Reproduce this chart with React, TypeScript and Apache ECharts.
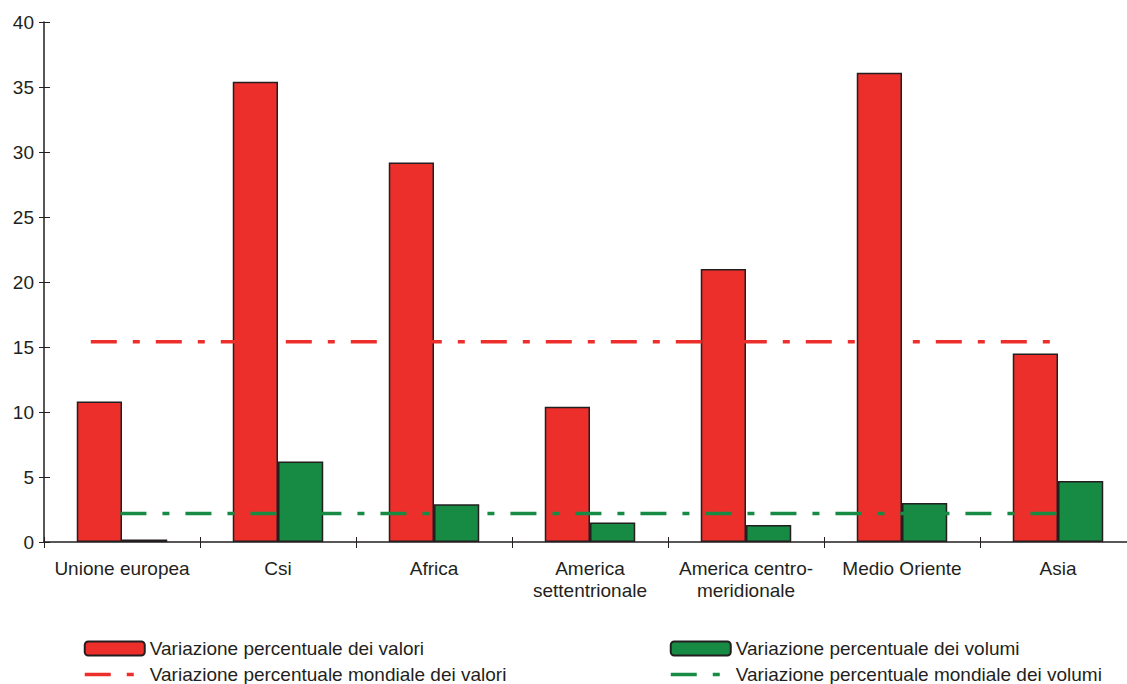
import React, { useEffect, useRef } from "react";
import * as echarts from "echarts";

const categories = [
  "Unione europea",
  "Csi",
  "Africa",
  "America\nsettentrionale",
  "America centro-\nmeridionale",
  "Medio Oriente",
  "Asia",
];
const valori = [10.8, 35.4, 29.2, 10.4, 21.0, 36.1, 14.5];
const volumi = [0.2, 6.2, 2.9, 1.5, 1.3, 3.0, 4.7];
const mondialeValori = 15.4;
const mondialeVolumi = 2.2;
// extent of world lines, in category units along the bottom axis
const valoriLineSpan = [0.3, 6.52];
const volumiLineSpan = [0.49, 6.52];
const yTicks = { min: 0, max: 40, interval: 5 };

const names = {
  valori: "Variazione percentuale dei valori",
  volumi: "Variazione percentuale dei volumi",
  mValori: "Variazione percentuale mondiale dei valori",
  mVolumi: "Variazione percentuale mondiale dei volumi",
};

const RED = "#ED2F2B";
const GREEN = "#178A43";
const INK = "#231F20";
const FONT = "Liberation Sans, Arial, sans-serif";
const FS = 19;

export default function App() {
  const ref = useRef<HTMLDivElement>(null);
  useEffect(() => {
    if (!ref.current) return;
    const chart = echarts.init(ref.current, null, { renderer: "svg" });
    const dash = [26, 16, 7, 16];
    const legendBase = {
      top: 639,
      orient: "vertical",
      padding: 0,
      itemWidth: 60,
      itemHeight: 14,
      itemGap: 7,
      textStyle: { fontSize: FS, color: INK, fontFamily: FONT },
    };
    const hiddenSymbol = { opacity: 0, borderWidth: 0 };
    chart.setOption({
      animation: false,
      textStyle: { fontFamily: FONT },
      grid: { left: 44, right: 4, top: 22, bottom: 142, containLabel: false },
      legend: [
        {
          ...legendBase,
          left: 83,
          data: [
            { name: names.valori },
            { name: names.mValori, itemStyle: hiddenSymbol, lineStyle: { width: 3.5 } },
          ],
        },
        {
          ...legendBase,
          left: 669,
          data: [
            { name: names.volumi },
            { name: names.mVolumi, itemStyle: hiddenSymbol, lineStyle: { width: 3.5 } },
          ],
        },
      ],
      xAxis: [
        {
          type: "category",
          data: categories,
          position: "bottom",
          axisLine: { lineStyle: { color: INK, width: 1.5 } },
          axisTick: { show: true, length: 6, lineStyle: { color: INK, width: 1 } },
          axisLabel: {
            color: INK,
            fontSize: FS,
            fontFamily: FONT,
            margin: 15,
            lineHeight: 22,
            interval: 0,
          },
        },
        {
          type: "value",
          min: 0,
          max: 7,
          interval: 1,
          position: "bottom",
          axisLine: { show: false },
          axisTick: { show: true, inside: true, length: 5, lineStyle: { color: INK, width: 1 } },
          axisLabel: { show: false },
          splitLine: { show: false },
        },
      ],
      yAxis: [
        {
          type: "value",
          ...yTicks,
          position: "left",
          axisLine: { show: true, lineStyle: { color: INK, width: 1.5 } },
          axisTick: { show: true, length: 5, lineStyle: { color: INK, width: 1 } },
          axisLabel: { color: INK, fontSize: FS, fontFamily: FONT, margin: 10 },
          splitLine: { show: false },
        },
        {
          type: "value",
          ...yTicks,
          position: "left",
          axisLine: { show: false },
          axisTick: { show: true, inside: true, length: 6, lineStyle: { color: INK, width: 1 } },
          axisLabel: { show: false },
          splitLine: { show: false },
        },
      ],
      series: [
        {
          name: names.valori,
          type: "bar",
          data: valori,
          barGap: "0%",
          barCategoryGap: "42%",
          itemStyle: { color: RED, borderColor: INK, borderWidth: 1.5 },
        },
        {
          name: names.volumi,
          type: "bar",
          data: volumi,
          itemStyle: { color: GREEN, borderColor: INK, borderWidth: 1.5 },
        },
        {
          name: names.mValori,
          type: "line",
          xAxisIndex: 1,
          yAxisIndex: 0,
          symbol: "none",
          data: valoriLineSpan.map((x) => [x, mondialeValori]),
          lineStyle: { color: RED, width: 3.5, type: dash },
          itemStyle: { color: RED },
          z: 5,
        },
        {
          name: names.mVolumi,
          type: "line",
          xAxisIndex: 1,
          yAxisIndex: 0,
          symbol: "none",
          data: volumiLineSpan.map((x) => [x, mondialeVolumi]),
          lineStyle: { color: GREEN, width: 3.5, type: dash },
          itemStyle: { color: GREEN },
          z: 5,
        },
      ],
    });
    return () => chart.dispose();
  }, []);
  return (
    <div
      style={{
        position: "absolute",
        left: 0,
        top: 0,
        width: 1127,
        height: 684,
        overflow: "hidden",
      }}
    >
      <div ref={ref} style={{ width: 1140, height: 684 }} />
    </div>
  );
}
